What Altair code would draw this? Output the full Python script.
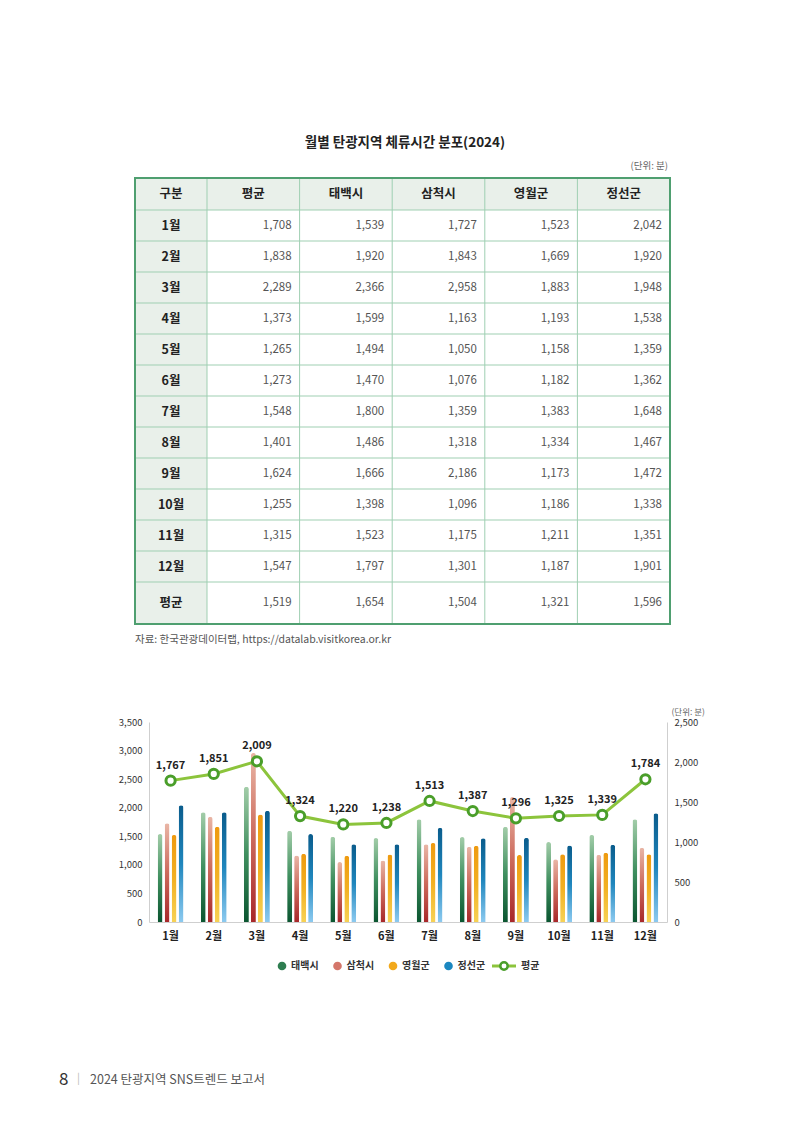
import altair as alt
import pandas as pd

FONT = "Noto Sans CJK KR"

# ---------------- data ----------------
months = ["1월", "2월", "3월", "4월", "5월", "6월", "7월", "8월", "9월", "10월", "11월", "12월"]
series = ["태백시", "삼척시", "영월군", "정선군"]

avg_table = [1708, 1838, 2289, 1373, 1265, 1273, 1548, 1401, 1624, 1255, 1315, 1547]
taebaek = [1539, 1920, 2366, 1599, 1494, 1470, 1800, 1486, 1666, 1398, 1523, 1797]
samcheok = [1727, 1843, 2958, 1163, 1050, 1076, 1359, 1318, 2186, 1096, 1175, 1301]
yeongwol = [1523, 1669, 1883, 1193, 1158, 1182, 1383, 1334, 1173, 1186, 1211, 1187]
jeongseon = [2042, 1920, 1948, 1538, 1359, 1362, 1648, 1467, 1472, 1338, 1351, 1901]
annual_row = [1519, 1654, 1504, 1321, 1596]

line_avg = [1767, 1851, 2009, 1324, 1220, 1238, 1513, 1387, 1296, 1325, 1339, 1784]

header_labels = ["구분", "평균", "태백시", "삼척시", "영월군", "정선군"]
row_labels = months + ["평균"]

left_ticks = [0, 500, 1000, 1500, 2000, 2500, 3000, 3500]
right_ticks = [0, 500, 1000, 1500, 2000, 2500]

# ---------------- styles ----------------
gradients = {
    "태백시": ["#a3cda9", "#3f8f5f", "#0a5530"],
    "삼척시": ["#e9b6a6", "#cc6a5c", "#a8282a"],
    "영월군": ["#ee9a10", "#f2b022", "#f7d255"],
    "정선군": ["#0a5c8c", "#1f86bd", "#8ccaf0"],
}
legend_colors = ["#2e7d50", "#d4766a", "#f2a91c", "#1b87c0"]
LINE_COLOR = "#8cc43c"
POINT_STROKE = "#4a9e2a"
BORDER = "#4f9f70"
GRID = "#9fcfb2"
COMMA = "format(datum.value, ',')"


def grad(name):
    c = gradients[name]
    return {
        "gradient": "linear",
        "x1": 0, "x2": 0, "y1": 0, "y2": 1,
        "stops": [
            {"offset": 0, "color": c[0]},
            {"offset": 0.5, "color": c[1]},
            {"offset": 1, "color": c[2]},
        ],
    }


# ---------------- bar + line chart ----------------
series_values = {"태백시": taebaek, "삼척시": samcheok, "영월군": yeongwol, "정선군": jeongseon}
bar_df = pd.DataFrame(
    [{"month": m, "series": s, "value": series_values[s][i]}
     for s in series for i, m in enumerate(months)]
)
line_df = pd.DataFrame({"month": months, "avg": line_avg})

X = alt.X(
    "month:N", sort=months,
    scale=alt.Scale(domain=months, paddingInner=0.4, paddingOuter=0.2),
    axis=alt.Axis(title=None, labelAngle=0, ticks=False, domainColor="#cfcfcf",
                  labelFontWeight="bold", labelFontSize=11, labelColor="#222222",
                  labelPadding=8, labelFont=FONT),
)
XO = alt.XOffset("series:N", scale=alt.Scale(domain=series, paddingInner=0.3, paddingOuter=0))
YL = alt.Y(
    "value:Q", scale=alt.Scale(domain=[0, 3500], nice=False),
    axis=alt.Axis(title=None, values=left_ticks, labelExpr=COMMA, ticks=False, grid=False,
                  domainColor="#cfcfcf", labelFontSize=9.5, labelColor="#333333",
                  labelPadding=7, labelFont=FONT),
)
YR = alt.Y(
    "avg:Q", scale=alt.Scale(domain=[0, 2500], nice=False),
    axis=alt.Axis(orient="right", values=right_ticks, labelExpr=COMMA, ticks=False, grid=False,
                  domainColor="#cfcfcf", labelFontSize=9.5, labelColor="#333333",
                  labelPadding=7, labelFont=FONT,
                  title="(단위: 분)", titleAngle=0, titleAlign="left", titleBaseline="bottom",
                  titleX=4, titleY=-6, titleFontSize=8.5, titleFontWeight="normal",
                  titleColor="#666666", titleFont=FONT),
)

bar_layers = [
    alt.Chart(bar_df).transform_filter(alt.datum.series == s)
    .mark_bar(color=grad(s), cornerRadiusTopLeft=2.5, cornerRadiusTopRight=2.5)
    .encode(x=X, xOffset=XO, y=YL)
    for s in series
]
bars = alt.layer(*bar_layers)

line_base = alt.Chart(line_df).encode(x=X, y=YR)
line_grp = alt.layer(
    line_base.mark_line(color=LINE_COLOR, strokeWidth=3),
    line_base.mark_point(shape="circle", size=85, fill="white", fillOpacity=1,
                         stroke=POINT_STROKE, strokeWidth=3, opacity=1),
    line_base.mark_text(dy=-15, fontSize=11, fontWeight="bold", color="#222222", font=FONT)
    .encode(text=alt.Text("avg:Q", format=",")),
)

chart_grp = alt.layer(bars, line_grp).resolve_scale(y="independent")

# ---------------- table ----------------
cols_vals = [avg_table, taebaek, samcheok, yeongwol, jeongseon]
cell_rows = []
for r in range(12):
    for c in range(5):
        cell_rows.append({"row": r + 1, "col": c + 1, "value": cols_vals[c][r]})
for c in range(5):
    cell_rows.append({"row": 13, "col": c + 1, "value": annual_row[c]})
cells_df = pd.DataFrame(cell_rows)
cells_df["xr"] = cells_df["col"] + 1
cells_df["yc"] = cells_df["row"] + 0.5

rowlab_df = pd.DataFrame({"label": row_labels, "row": list(range(1, 14))})
rowlab_df["xc"] = 0.5
rowlab_df["yc"] = rowlab_df["row"] + 0.5

head_df = pd.DataFrame({"label": header_labels, "col": list(range(6))})
head_df["xc"] = head_df["col"] + 0.5
head_df["yc"] = 0.5

n_cols = len(header_labels)
n_rows = len(row_labels) + 1

TX = alt.Scale(domain=[0, 1, n_cols], range=[-14, 58, 521], nice=False, zero=False)
TY = alt.Scale(domain=[0, 1, n_rows - 1, n_rows], range=[-544, -512, -140, -98], nice=False, zero=False)

bg_df = pd.DataFrame([
    {"x0": 0, "x1": n_cols, "y0": 0, "y1": 1},
    {"x0": 0, "x1": 1, "y0": 1, "y1": n_rows},
])
hline_df = pd.DataFrame({"y": list(range(1, n_rows)), "x0": 0, "x1": n_cols})
vline_df = pd.DataFrame({"x": list(range(1, n_cols)), "y0": 0, "y1": n_rows})
frame_df = pd.DataFrame([{"x0": 0, "x1": n_cols, "y0": 0, "y1": n_rows}])

table_bg = alt.Chart(bg_df).mark_rect(color="#e9f0ea").encode(
    x=alt.X("x0:Q", scale=TX, axis=None), x2="x1:Q",
    y=alt.Y("y0:Q", scale=TY, axis=None), y2="y1:Q")
table_h = alt.Chart(hline_df).mark_rule(color=GRID, strokeWidth=1).encode(
    x=alt.X("x0:Q", scale=TX, axis=None), x2="x1:Q",
    y=alt.Y("y:Q", scale=TY, axis=None))
table_v = alt.Chart(vline_df).mark_rule(color=GRID, strokeWidth=1).encode(
    x=alt.X("x:Q", scale=TX, axis=None),
    y=alt.Y("y0:Q", scale=TY, axis=None), y2="y1:Q")
table_frame = alt.Chart(frame_df).mark_rect(fill=None, fillOpacity=0, stroke=BORDER, strokeWidth=2).encode(
    x=alt.X("x0:Q", scale=TX, axis=None), x2="x1:Q",
    y=alt.Y("y0:Q", scale=TY, axis=None), y2="y1:Q")
table_head = alt.Chart(head_df).mark_text(fontSize=12.5, fontWeight="bold", color="#222222", font=FONT).encode(
    x=alt.X("xc:Q", scale=TX, axis=None), y=alt.Y("yc:Q", scale=TY, axis=None), text="label:N")
table_rowlab = alt.Chart(rowlab_df).mark_text(fontSize=12.5, fontWeight="bold", color="#222222", font=FONT).encode(
    x=alt.X("xc:Q", scale=TX, axis=None), y=alt.Y("yc:Q", scale=TY, axis=None), text="label:N")
table_cells = alt.Chart(cells_df).mark_text(align="right", dx=-8, fontSize=11.5, color="#555555", font=FONT).encode(
    x=alt.X("xr:Q", scale=TX, axis=None), y=alt.Y("yc:Q", scale=TY, axis=None),
    text=alt.Text("value:Q", format=","))

table_grp = alt.layer(table_bg, table_h, table_v, table_frame, table_head, table_rowlab, table_cells)

# ---------------- legend ----------------
leg_df = pd.DataFrame({"name": series, "idx": list(range(len(series)))})
avg_leg_df = pd.DataFrame({"name": ["평균"], "idx": [len(series)]})
LX = alt.Scale(domain=[0, len(series)], range=[133, 355], nice=False, zero=False)
LEG_Y = 244

leg_dots = alt.Chart(leg_df).mark_circle(size=75, opacity=1).encode(
    x=alt.X("idx:Q", scale=LX, axis=None), y=alt.value(LEG_Y),
    color=alt.Color("name:N", scale=alt.Scale(domain=series, range=legend_colors), legend=None))
leg_text = alt.Chart(leg_df).mark_text(align="left", dx=9, fontSize=10, fontWeight="bold", color="#333333", font=FONT).encode(
    x=alt.X("idx:Q", scale=LX, axis=None), y=alt.value(LEG_Y), text="name:N")
leg_line = alt.Chart(avg_leg_df).mark_tick(orient="horizontal", size=24, thickness=3, color=LINE_COLOR, opacity=1).encode(
    x=alt.X("idx:Q", scale=LX, axis=None), y=alt.value(LEG_Y))
leg_pt = alt.Chart(avg_leg_df).mark_point(shape="circle", size=55, fill="white", fillOpacity=1,
                                          stroke=POINT_STROKE, strokeWidth=2.5, opacity=1).encode(
    x=alt.X("idx:Q", scale=LX, axis=None), y=alt.value(LEG_Y))
leg_avg_text = alt.Chart(avg_leg_df).mark_text(align="left", dx=17, fontSize=10, fontWeight="bold", color="#333333", font=FONT).encode(
    x=alt.X("idx:Q", scale=LX, axis=None), y=alt.value(LEG_Y), text="name:N")

legend_grp = alt.layer(leg_dots, leg_text, leg_line, leg_pt, leg_avg_text)

# ---------------- page texts ----------------
one = pd.DataFrame({"a": [0]})


def note(text, x, y, size, color="#555555", weight="normal", align="left"):
    return alt.Chart(one).mark_text(
        text=text, fontSize=size, color=color, fontWeight=weight, align=align,
        baseline="middle", font=FONT
    ).encode(x=alt.value(x), y=alt.value(y))


texts = alt.layer(
    note("월별 탄광지역 체류시간 분포(2024)", 256, -579, 13.5, "#222222", "bold", "center"),
    note("(단위: 분)", 519, -556, 9.5, "#666666", "normal", "right"),
    note("자료: 한국관광데이터랩, https://datalab.visitkorea.or.kr", -14, -82, 10.5, "#555555"),
    note("8", -90, 358, 17, "#333333"),
    note("|", -72, 357, 11, "#bbbbbb"),
    note("2024 탄광지역 SNS트렌드 보고서", -59, 358, 12.5, "#555555"),
)

chart = alt.layer(chart_grp, table_grp, legend_grp, texts).resolve_scale(
    x="independent", y="independent"
).properties(
    width=518, height=200,
    autosize=alt.AutoSizeParams(type="none"),
    padding={"left": 141, "top": 714, "right": 117, "bottom": 202},
    background="white",
).configure_view(stroke=None).configure_text(font=FONT)

chart.save("out.html", embed_options={"renderer": "svg", "actions": False})
